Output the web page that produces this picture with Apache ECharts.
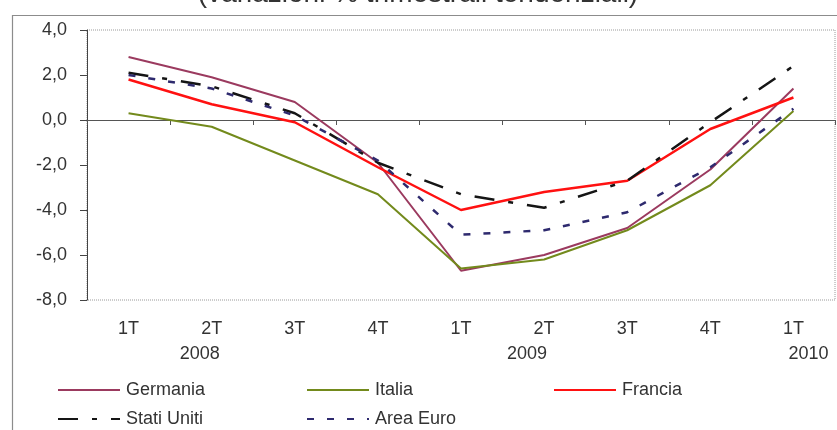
<!DOCTYPE html>
<html>
<head>
<meta charset="utf-8">
<script src="https://cdn.jsdelivr.net/npm/echarts@6/dist/echarts.min.js"></script>
<style>
  html, body { margin: 0; padding: 0; background: #fff; }
  #chart { width: 837px; height: 430px; }
</style>
</head>
<body>
<div id="chart"></div>
<script>
// Quarterly GDP growth, % change on the same quarter of the previous year
const quarters = ['1T', '2T', '3T', '4T', '1T', '2T', '3T', '4T', '1T'];
const years    = ['', '2008', '', '', '', '2009', '', '', '2010'];

const germania   = [2.8, 1.9, 0.8, -1.9, -6.7, -6.0, -4.8, -2.2, 1.4];
const italia     = [0.3, -0.3, -1.8, -3.3, -6.6, -6.2, -4.9, -2.9, 0.4];
const francia    = [1.8, 0.7, -0.1, -2.1, -4.0, -3.2, -2.7, -0.4, 1.0];
const statiUniti = [2.1, 1.5, 0.3, -1.9, -3.3, -3.9, -2.7, -0.1, 2.4];
const areaEuro   = [2.0, 1.4, 0.2, -1.8, -5.1, -4.9, -4.1, -2.1, 0.5];

const yTicks = [-8, -6, -4, -2, 0, 2, 4];

const FONT = 'Liberation Sans, Arial, sans-serif';
const TXT = '#333333';

const chart = echarts.init(document.getElementById('chart'), null, { renderer: 'canvas' });

function lineSeries(name, data, color, width, dash) {
  return {
    name, type: 'line', data, xAxisIndex: 0, yAxisIndex: 0,
    symbol: 'none', smooth: false, animation: false,
    lineStyle: { color, width, type: dash || 'solid', cap: 'butt' },
    itemStyle: { color },
    emphasis: { disabled: true }
  };
}

function legendItem(name, left, top) {
  return {
    data: [name], left, top, orient: 'horizontal',
    itemWidth: 62, itemHeight: 14, itemGap: 0, padding: 0,
    selectedMode: false,
    itemStyle: { opacity: 0 },
    textStyle: { fontFamily: FONT, fontSize: 18, color: TXT, padding: [0, 0, 0, 1] }
  };
}

const option = {
  animation: false,
  backgroundColor: '#ffffff',
  graphic: [
    // outer frame of the figure
    { type: 'rect', left: 10, top: 13, z: -10,
      shape: { x: 0, y: 0, width: 900, height: 500 },
      style: { fill: 'none', stroke: '#8c8c8c', lineWidth: 1.2 } },
    // subtitle, cut by the upper edge
    { type: 'text', x: 418, y: 8, z: 5,
      style: { text: '(variazioni % trimestrali tendenziali)', font: '28px ' + FONT,
               fill: TXT, align: 'center', verticalAlign: 'bottom' } }
  ],
  grid: {
    left: 87, right: 2, top: 30, bottom: 130,
    show: true, borderColor: '#9a9a9a', borderWidth: 1, borderType: 'dotted',
    backgroundColor: 'transparent'
  },
  legend: [
    legendItem('Germania', 57, 381),
    legendItem('Italia', 306, 381),
    legendItem('Francia', 553, 381),
    legendItem('Stati Uniti', 57, 410),
    legendItem('Area Euro', 306, 410)
  ],
  xAxis: [
    {
      type: 'category', data: quarters, boundaryGap: true,
      axisLine: { show: true, onZero: true, lineStyle: { color: '#555', width: 1 } },
      axisTick: { show: true, inside: false, length: 5, alignWithLabel: false,
                  lineStyle: { color: '#555' } },
      axisLabel: { show: false },
      splitLine: { show: false }
    },
    {
      type: 'category', data: quarters, boundaryGap: true, position: 'bottom',
      axisLine: { show: false, onZero: false },
      axisTick: { show: false },
      splitLine: { show: false },
      axisLabel: {
        show: true, interval: 0, margin: 17,
        formatter: (val, idx) => {
          const y = years[idx];
          return y ? '{q|' + val + '}\n{y' + y.slice(2) + '|' + y + '}' : '{q|' + val + '}';
        },
        rich: {
          q:   { fontFamily: FONT, fontSize: 18, color: TXT, lineHeight: 25 },
          y08: { fontFamily: FONT, fontSize: 18, color: TXT, lineHeight: 25, padding: [0, 24, 0, 0] },
          y09: { fontFamily: FONT, fontSize: 18, color: TXT, lineHeight: 25, padding: [0, 34, 0, 0] },
          y10: { fontFamily: FONT, fontSize: 18, color: TXT, lineHeight: 25, padding: [0, 0, 0, 30] }
        }
      }
    }
  ],
  yAxis: {
    type: 'value', min: -8, max: 4, interval: 2,
    axisLine: { show: true, lineStyle: { color: '#444', width: 1 } },
    axisTick: { show: true, inside: false, length: 7, lineStyle: { color: '#444' } },
    splitLine: { show: false },
    axisLabel: {
      margin: 20, fontFamily: FONT, fontSize: 18, color: TXT,
      customValues: yTicks,
      formatter: v => v.toFixed(1).replace('.', ',')
    }
  },
  series: [
    lineSeries('Germania', germania, '#9b3a5f', 2),
    lineSeries('Italia', italia, '#738a1c', 2),
    lineSeries('Francia', francia, '#ff1111', 2.5),
    lineSeries('Stati Uniti', statiUniti, '#151515', 2.5, [20, 14, 5, 14]),
    lineSeries('Area Euro', areaEuro, '#2e2a6e', 2.5, [7, 13])
  ]
};

chart.setOption(option);
</script>
</body>
</html>
